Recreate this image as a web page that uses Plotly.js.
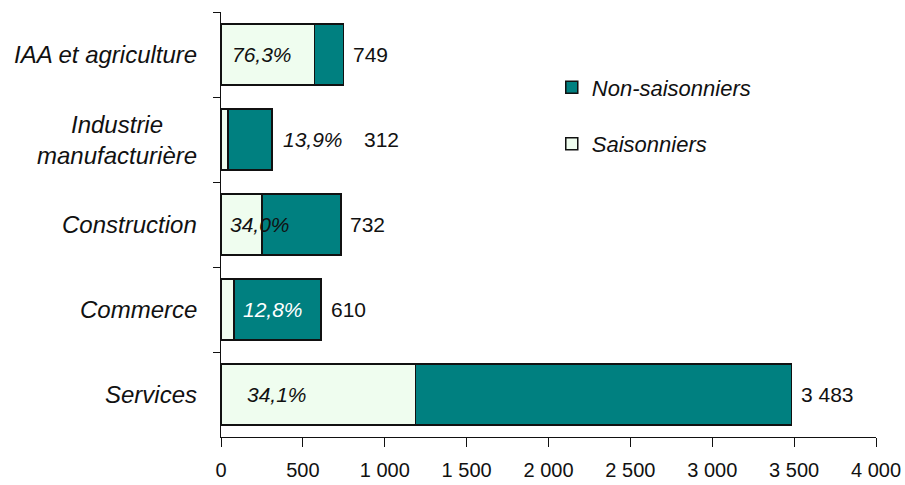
<!DOCTYPE html>
<html>
<head>
<meta charset="utf-8">
<script src="https://cdn.plot.ly/plotly-3.0.1.min.js"></script>
<style>html,body{margin:0;padding:0;background:#fff;}#chart{width:905px;height:485px;}</style>
</head>
<body>
<div id="chart"></div>
<script>
var categories = ["IAA et agriculture", "Industrie<br>manufacturière", "Construction", "Commerce", "Services"];
var saisonniers = [571, 43, 249, 78, 1188];
var nonSaisonniers = [178, 269, 483, 532, 2295];
var totals = [749, 312, 732, 610, 3483];
var pctLabels = ["76,3%", "13,9%", "34,0%", "12,8%", "34,1%"];
var pctLabelX = [253, 562, 238, 318, 342];
var pctColors = ["#111", "#111", "#111", "#fff", "#111"];
var totalLabels = ["749", "312", "732", "610", "3 483"];
var totalShift = [7, 90, 7, 8, 8];
var xTicks = [0, 500, 1000, 1500, 2000, 2500, 3000, 3500, 4000];

var FONT = '"Liberation Sans Narrow", "Arial Narrow", "Liberation Sans", Arial, sans-serif';

var traces = [
  {type: 'bar', orientation: 'h', name: 'Saisonniers', y: categories, x: saisonniers,
   marker: {color: '#EFFDEF', line: {color: '#111', width: 1.5}}, legendgroup: 'b', legendrank: 2, hoverinfo: 'none'},
  {type: 'bar', orientation: 'h', name: 'Non-saisonniers', y: categories, x: nonSaisonniers,
   marker: {color: '#008080', line: {color: '#111', width: 1.5}}, legendgroup: 'a', legendrank: 1, hoverinfo: 'none'}
];

var annotations = [];
for (var i = 0; i < categories.length; i++) {
  annotations.push({xref: 'paper', yref: 'y', x: 0, y: categories[i], xshift: -22, xanchor: 'right', align: 'center',
    text: categories[i], showarrow: false, font: {family: FONT, size: 24, color: '#111', style: 'italic'}});
  annotations.push({xref: 'x', yref: 'y', x: pctLabelX[i], y: categories[i], xanchor: 'center', showarrow: false,
    text: pctLabels[i], font: {family: FONT, size: 21, color: pctColors[i], style: 'italic'}});
  annotations.push({xref: 'x', yref: 'y', x: totals[i], y: categories[i], xanchor: 'left', xshift: totalShift[i], showarrow: false,
    text: totalLabels[i], font: {family: FONT, size: 21, color: '#111'}});
}

var layout = {
  width: 905, height: 485,
  margin: {l: 221, r: 29, t: 12, b: 48},
  paper_bgcolor: '#fff', plot_bgcolor: '#fff',
  barmode: 'stack', bargap: 0.28,
  separators: ', ',
  font: {family: FONT, size: 20, color: '#111'},
  xaxis: {range: [0, 4000], tickvals: xTicks, tickformat: ',d', showgrid: false, zeroline: false,
    showline: true, linecolor: '#111', linewidth: 1, ticks: 'outside', ticklen: 9, tickcolor: '#111',
    tickfont: {family: FONT, size: 20, color: '#111'}, ticklabelstandoff: 6, fixedrange: true},
  yaxis: {type: 'category', autorange: 'reversed', showticklabels: false, showgrid: false, zeroline: false,
    showline: true, linecolor: '#111', linewidth: 1, ticks: 'outside', ticklen: 7, tickcolor: '#111',
    tickson: 'boundaries', fixedrange: true},
  legend: {x: 0.505, y: 0.872, xanchor: 'left', yanchor: 'top', traceorder: 'grouped', tracegroupgap: 25,
    font: {family: FONT, size: 22, color: '#111', style: 'italic'}, bgcolor: 'rgba(0,0,0,0)'},
  annotations: annotations
};

Plotly.newPlot('chart', traces, layout, {displayModeBar: false, staticPlot: true});
</script>
</body>
</html>
